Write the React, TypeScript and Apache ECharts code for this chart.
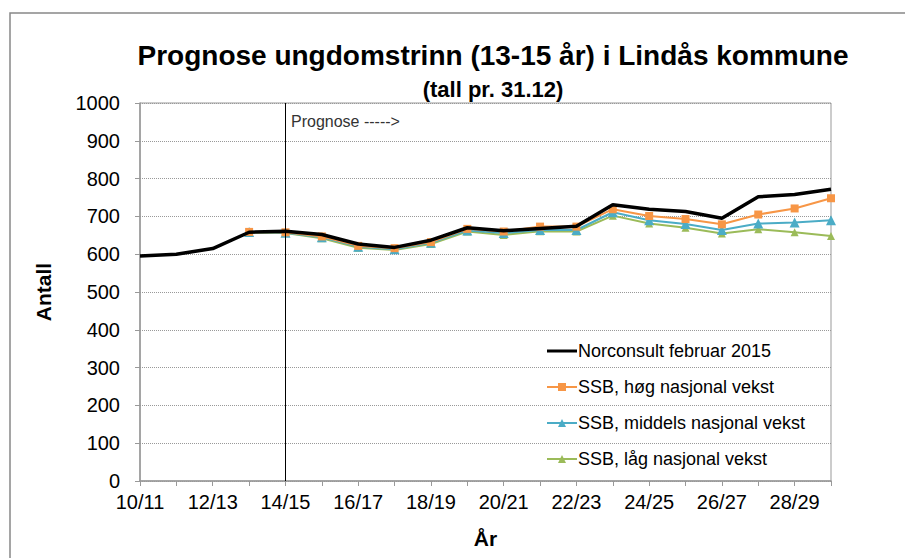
import React, { useEffect, useRef } from "react";
import * as echarts from "echarts";

const categories = [
  "10/11", "11/12", "12/13", "13/14", "14/15", "15/16", "16/17", "17/18", "18/19", "19/20",
  "20/21", "21/22", "22/23", "23/24", "24/25", "25/26", "26/27", "27/28", "28/29", "29/30",
];
const norconsult = [595, 600, 615, 658, 661, 652, 627, 618, 637, 670, 662, 668, 674, 731, 719, 713, 695, 752, 758, 772];
const ssbHoy = [null, null, null, 659, 658, 647, 622, 616, 632, 667, 660, 673, 673, 719, 701, 693, 679, 705, 721, 748];
const ssbMiddels = [null, null, null, 659, 657, 645, 620, 613, 630, 663, 656, 664, 664, 711, 690, 680, 664, 681, 684, 690];
const ssbLav = [null, null, null, 658, 656, 642, 617, 611, 627, 660, 651, 661, 660, 702, 681, 670, 655, 666, 658, 648];
const yTicks = { min: 0, max: 1000, interval: 100 };

const FONT = "'Liberation Sans', Arial, sans-serif";

export default function App() {
  const ref = useRef<HTMLDivElement>(null);
  useEffect(() => {
    if (!ref.current) return;
    const chart = echarts.init(ref.current, null, { renderer: "svg" });
    chart.setOption({
      animation: false,
      backgroundColor: "#fff",
      textStyle: { fontFamily: FONT },
      title: [
        {
          text: "Prognose ungdomstrinn (13-15 år) i Lindås kommune",
          left: 488,
          textAlign: "center",
          top: 36,
          textStyle: { fontSize: 28, fontWeight: "bold", color: "#000", fontFamily: FONT },
        },
        {
          text: "(tall pr. 31.12)",
          left: 488,
          textAlign: "center",
          top: 73,
          textStyle: { fontSize: 22, fontWeight: "bold", color: "#000", fontFamily: FONT },
        },
      ],
      graphic: [
        {
          type: "rect",
          shape: { x: 10, y: 13, width: 1000, height: 1000 },
          style: { fill: "none", stroke: "#888", lineWidth: 1.5 },
          silent: true,
        },
        {
          type: "text",
          left: 291,
          top: 113,
          style: { text: "Prognose ----->", fontSize: 16, fill: "#333", fontFamily: FONT },
          silent: true,
        },
      ],
      legend: {
        orient: "vertical",
        left: 541,
        top: 337,
        itemGap: 18,
        itemWidth: 30,
        itemHeight: 10,
        textStyle: { fontSize: 18, color: "#000", fontFamily: FONT, padding: [0, 0, 0, -4] },
        data: [
          { name: "Norconsult februar 2015", icon: "path://M0,0 L30,0 L30,3 L0,3 Z" },
          "SSB, høg nasjonal vekst",
          "SSB, middels nasjonal vekst",
          "SSB, låg nasjonal vekst",
        ],
      },
      grid: {
        left: 140,
        right: 74,
        top: 103,
        bottom: 77,
        show: true,
        borderColor: "#999",
        borderWidth: 1,
        containLabel: false,
      },
      xAxis: {
        type: "category",
        data: categories,
        boundaryGap: false,
        name: "År",
        nameLocation: "middle",
        nameGap: 47,
        nameTextStyle: { fontSize: 21, fontWeight: "bold", color: "#000", fontFamily: FONT },
        axisLine: { lineStyle: { color: "#999", width: 1.5 } },
        axisTick: { show: true, interval: 0, length: 5, lineStyle: { color: "#999" } },
        axisLabel: { interval: 1, fontSize: 20, color: "#000", margin: 11, fontFamily: FONT },
        splitLine: { show: false },
      },
      yAxis: {
        type: "value",
        min: yTicks.min,
        max: yTicks.max,
        interval: yTicks.interval,
        name: "Antall",
        nameLocation: "middle",
        nameGap: 86,
        nameTextStyle: { fontSize: 21, fontWeight: "bold", color: "#000", fontFamily: FONT },
        axisLine: { show: true, lineStyle: { color: "#999", width: 1.5 } },
        axisTick: { show: true, length: 5, lineStyle: { color: "#999" } },
        axisLabel: {
          fontSize: 20,
          color: "#000",
          margin: 20,
          fontFamily: FONT,
          formatter: (v: number) => String(v),
        },
        splitLine: { show: true, lineStyle: { color: "#999", type: "dotted", width: 1 } },
      },
      series: [
        {
          name: "Norconsult februar 2015",
          type: "line",
          data: norconsult,
          symbol: "none",
          z: 5,
          lineStyle: { color: "#000", width: 3.5 },
          itemStyle: { color: "#000" },
          markLine: {
            silent: true,
            symbol: "none",
            label: { show: false },
            lineStyle: { color: "#000", width: 1, type: "solid" },
            data: [{ xAxis: "14/15" }],
          },
        },
        {
          name: "SSB, høg nasjonal vekst",
          type: "line",
          data: ssbHoy,
          symbol: "rect",
          symbolSize: 8,
          z: 4,
          lineStyle: { color: "#F79646", width: 2 },
          itemStyle: { color: "#F79646" },
        },
        {
          name: "SSB, middels nasjonal vekst",
          type: "line",
          data: ssbMiddels,
          symbol: "triangle",
          symbolSize: 10,
          z: 3,
          lineStyle: { color: "#4BACC6", width: 2 },
          itemStyle: { color: "#4BACC6" },
        },
        {
          name: "SSB, låg nasjonal vekst",
          type: "line",
          data: ssbLav,
          symbol: "triangle",
          symbolSize: 8,
          z: 2,
          lineStyle: { color: "#9BBB59", width: 2 },
          itemStyle: { color: "#9BBB59" },
        },
      ],
    });
    return () => chart.dispose();
  }, []);
  return (
    <div
      ref={ref}
      style={{ position: "absolute", left: 0, top: 0, width: 905, height: 558 }}
    />
  );
}
